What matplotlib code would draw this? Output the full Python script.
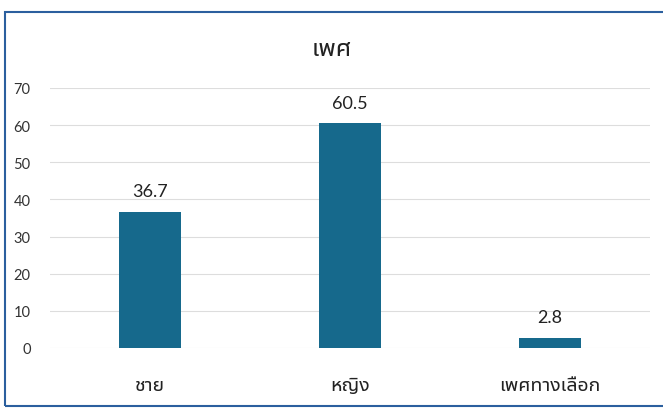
import numpy as np
import matplotlib
matplotlib.use("Agg")
import matplotlib.pyplot as plt
from matplotlib.patches import Rectangle

categories = ["ชาย", "หญิง", "เพศทางเลือก"]
values = [36.7, 60.5, 2.8]
title = "เพศ"
yticks = [0, 10, 20, 30, 40, 50, 60, 70]

plt.rcParams['font.family'] = ["Noto Sans Thai UI", "Lato", "DejaVu Sans"]
num_font = ["Lato", "DejaVu Sans"]

fig = plt.figure(figsize=(6.63, 4.10), dpi=100)
ax = fig.add_axes([50/663, 61/410, 600/663, 260/410])

bar_color = "#16698c"
x = np.arange(len(categories))
ax.bar(x, values, width=0.31, color=bar_color, zorder=3)
for xi, v in zip(x, values):
    ax.text(xi, v + 3.3, str(v), ha="center", va="bottom", fontsize=13,
            color="#222222", family=num_font)

ax.set_xlim(-0.5, 2.5)
ax.set_ylim(0, 70)
ax.set_yticks(yticks)
ax.set_yticklabels([str(t) for t in yticks], family=num_font)
ax.set_xticks(x)
ax.set_xticklabels(categories, fontsize=14)
ax.tick_params(axis="y", length=0, labelsize=10.5, pad=14, colors="#333333")
ax.tick_params(axis="x", length=0, pad=20, colors="#222222")
ax.grid(axis="y", color="#dddddd", linewidth=0.8, zorder=0)
for s in ax.spines.values():
    s.set_visible(False)

fig.text(0.5, 1 - 49/410, title, ha="center", va="center", fontsize=18, color="#222222")

# blue frame round the chart, runs past the right edge
fig.patches.append(Rectangle((5/663, 3/410), 1.0, 394/410, transform=fig.transFigure,
                             fill=False, edgecolor="#2b5f9e", linewidth=1.5))

fig.savefig("out.png", dpi=100)
